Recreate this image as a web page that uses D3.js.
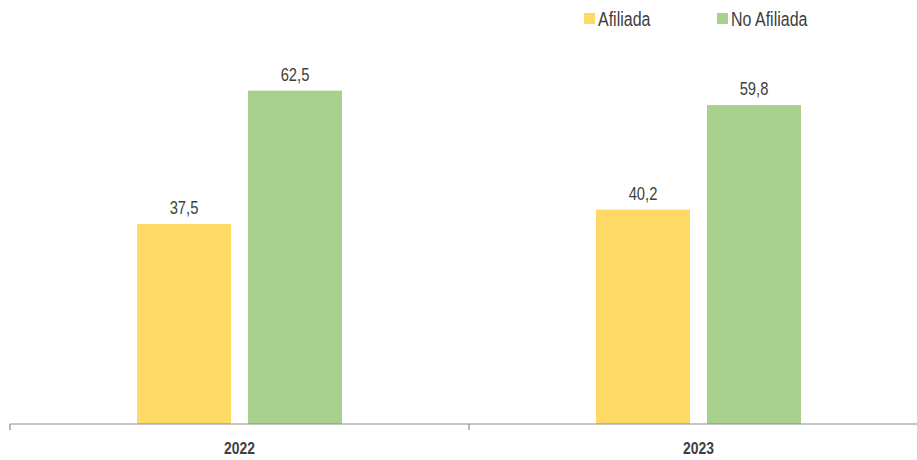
<!DOCTYPE html>
<html>
<head>
<meta charset="utf-8">
<script src="https://cdn.jsdelivr.net/npm/d3@7"></script>
<style>
  body { margin: 0; background: #fff; }
  svg { display: block; font-family: "Liberation Sans", Arial, sans-serif; }
</style>
</head>
<body>
<div id="chart"></div>
<script>
// datos
const years = ["2022", "2023"];
const series = ["Afiliada", "No Afiliada"];
const afiliada = [37.5, 40.2];
const noAfiliada = [62.5, 59.8];
const colors = ["#FFD966", "#A9D18E"];

const width = 917, height = 460;
const margin = {top: 24, right: -11, bottom: 36, left: 10};
const innerW = width - margin.left - margin.right;
const innerH = height - margin.top - margin.bottom;
const narrow = 0.82; // imita fuente condensada

const rows = years.map((y, i) => ({year: y, values: [afiliada[i], noAfiliada[i]]}));

const svg = d3.select("#chart").append("svg")
  .attr("width", width).attr("height", height);

const g = svg.append("g").attr("transform", `translate(${margin.left},${margin.top})`);

const x0 = d3.scaleBand().domain(years).range([0, innerW]);
const x1 = d3.scaleBand().domain(series).range([127, 332]).paddingInner(0.153);
const y = d3.scaleLinear().domain([0, 75]).range([innerH, 0]);

const grp = g.selectAll("g.year")
  .data(rows)
  .join("g")
    .attr("class", "year")
    .attr("transform", d => `translate(${x0(d.year)},0)`);

grp.selectAll("rect")
  .data(d => d.values.map((v, i) => ({k: series[i], v, i})))
  .join("rect")
    .attr("x", d => x1(d.k))
    .attr("y", d => y(d.v))
    .attr("width", x1.bandwidth())
    .attr("height", d => innerH - y(d.v))
    .attr("fill", d => colors[d.i]);

grp.selectAll("text.val")
  .data(d => d.values.map((v, i) => ({k: series[i], v, i})))
  .join("text")
    .attr("class", "val")
    .attr("transform", d => `translate(${x1(d.k) + x1.bandwidth() / 2},${y(d.v) - 10}) scale(${narrow},1)`)
    .attr("text-anchor", "middle")
    .style("font-size", "18px")
    .style("fill", "#404040")
    .text(d => d3.format(".1f")(d.v).replace(".", ","));

// eje x
const xAxis = g.append("g").attr("transform", `translate(0,${innerH})`);
xAxis.append("line")
  .attr("x1", 0).attr("x2", innerW)
  .attr("stroke", "#8c8c8c").attr("stroke-width", 1.2);
xAxis.selectAll("line.tick")
  .data(years.concat(["end"]))
  .join("line")
    .attr("class", "tick")
    .attr("x1", (d, i) => i * x0.bandwidth()).attr("x2", (d, i) => i * x0.bandwidth())
    .attr("y1", 0).attr("y2", 6)
    .attr("stroke", "#8c8c8c").attr("stroke-width", 1.2);
xAxis.selectAll("text")
  .data(years)
  .join("text")
    .attr("transform", d => `translate(${x0(d) + x0.bandwidth() / 2},30) scale(${narrow},1)`)
    .attr("text-anchor", "middle")
    .style("font-size", "17px")
    .style("font-weight", "bold")
    .style("fill", "#404040")
    .text(d => d);

// leyenda
const legend = svg.append("g");
const legX = [584, 717];
series.forEach((s, i) => {
  legend.append("rect")
    .attr("x", legX[i]).attr("y", 13)
    .attr("width", 11).attr("height", 11)
    .attr("fill", colors[i]);
  legend.append("text")
    .attr("transform", `translate(${legX[i] + 14},26) scale(${narrow},1)`)
    .style("font-size", "19.5px")
    .style("fill", "#404040")
    .text(s);
});
</script>
</body>
</html>
